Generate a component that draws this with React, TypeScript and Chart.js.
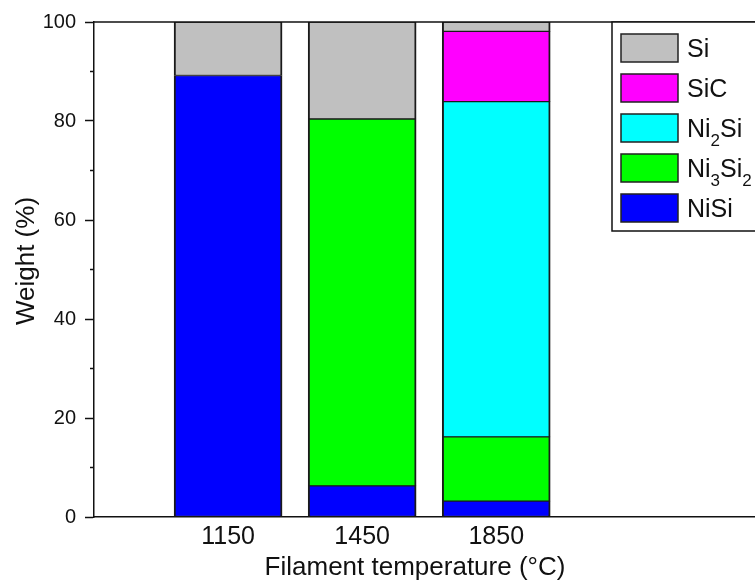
import React, { useEffect, useRef } from "react";
import { Chart, registerables } from "chart.js";

Chart.register(...registerables);

const categories = ["1150", "1450", "1850"];
const niSi = [89.2, 6.3, 3.2];
const ni3Si2 = [null, 74.1, 13.0];
const ni2Si = [null, null, 67.7];
const siC = [null, null, 14.2];
const si = [10.8, 19.6, 1.9];

const seriesLabels = ["NiSi", "Ni\u2083Si\u2082", "Ni\u2082Si", "SiC", "Si"];
const seriesColors = ["#0000FF", "#00FF00", "#00FFFF", "#FF00FF", "#C0C0C0"];
const seriesValues = [niSi, ni3Si2, ni2Si, siC, si];

const yTicks = [0, 20, 40, 60, 80, 100];
const yMinorTicks = [10, 30, 50, 70, 90];

const xTitle = "Filament temperature (\u00B0C)";
const yTitle = "Weight (%)";

const FONT = "'Liberation Sans', Arial, Helvetica, sans-serif";
const INK = "#111";

const subMap: Record<string, string> = { "\u2080": "0", "\u2081": "1", "\u2082": "2", "\u2083": "3", "\u2084": "4" };

function drawRich(ctx: CanvasRenderingContext2D, text: string, x: number, y: number, size: number) {
  let cx = x;
  for (const ch of text) {
    if (subMap[ch]) {
      ctx.font = `${Math.round(size * 0.66)}px ${FONT}`;
      ctx.fillText(subMap[ch], cx, y + size * 0.36);
      cx += ctx.measureText(subMap[ch]).width;
    } else {
      ctx.font = `${size}px ${FONT}`;
      ctx.fillText(ch, cx, y);
      cx += ctx.measureText(ch).width;
    }
  }
}

const framePlugin = {
  id: "frameAndLegend",
  afterDraw(chart: any) {
    const { ctx, chartArea } = chart;
    const yScale = chart.scales.y;
    ctx.save();
    ctx.strokeStyle = INK;
    ctx.lineWidth = 1.5;
    ctx.beginPath();
    ctx.moveTo(chartArea.left, chartArea.top);
    ctx.lineTo(chartArea.right + 2, chartArea.top);
    ctx.stroke();
    for (const v of yMinorTicks) {
      const py = yScale.getPixelForValue(v);
      ctx.beginPath();
      ctx.moveTo(chartArea.left - 4, py);
      ctx.lineTo(chartArea.left, py);
      ctx.stroke();
    }
    // axis titles
    ctx.fillStyle = INK;
    ctx.font = `26px ${FONT}`;
    ctx.textAlign = "center";
    ctx.textBaseline = "alphabetic";
    ctx.fillText(xTitle, chartArea.left + 321, chartArea.bottom + 58);
    ctx.save();
    ctx.translate(34, chartArea.top + 239);
    ctx.rotate(-Math.PI / 2);
    ctx.fillText(yTitle, 0, 0);
    ctx.restore();
    // legend
    const boxLeft = chartArea.right - 143;
    const boxTop = chartArea.top;
    const boxBottom = chartArea.top + 209;
    ctx.fillStyle = "#fff";
    ctx.fillRect(boxLeft, boxTop, chartArea.right + 10 - boxLeft, boxBottom - boxTop);
    ctx.strokeStyle = INK;
    ctx.lineWidth = 1.5;
    ctx.beginPath();
    ctx.moveTo(chartArea.right + 10, boxTop);
    ctx.lineTo(boxLeft, boxTop);
    ctx.lineTo(boxLeft, boxBottom);
    ctx.lineTo(chartArea.right + 10, boxBottom);
    ctx.stroke();
    const ds = chart.data.datasets.slice().reverse();
    ds.forEach((d: any, i: number) => {
      const sy = boxTop + 12 + i * 40;
      const sx = boxLeft + 9;
      ctx.fillStyle = d.backgroundColor;
      ctx.fillRect(sx, sy, 57, 28);
      ctx.strokeStyle = "#222";
      ctx.lineWidth = 1.5;
      ctx.strokeRect(sx, sy, 57, 28);
      ctx.fillStyle = INK;
      ctx.textBaseline = "alphabetic";
      ctx.textAlign = "left";
      drawRich(ctx, d.label, sx + 66, sy + 23, 25);
    });
    ctx.restore();
  },
};

export default function App() {
  const ref = useRef<HTMLCanvasElement>(null);
  useEffect(() => {
    if (!ref.current) return;
    const chart = new Chart(ref.current, {
      type: "bar",
      data: {
        datasets: seriesValues.map((vals, s) => ({
          label: seriesLabels[s],
          data: categories.map((_, i) => ({ x: i + 1, y: vals[i] })),
          backgroundColor: seriesColors[s],
          borderColor: "#1a1a1a",
          borderWidth: { top: 1, bottom: 1, left: 2, right: 2 },
          borderSkipped: false,
          barThickness: 108,
        })) as any,
      },
      options: {
        animation: false,
        responsive: false,
        layout: { padding: { left: 0, top: 22, right: 0, bottom: 0 } },
        plugins: { legend: { display: false }, tooltip: { enabled: false } },
        scales: {
          x: {
            type: "linear",
            stacked: true,
            offset: false,
            min: 0,
            max: 4.93,
            afterBuildTicks: (scale: any) => {
              scale.ticks = categories.map((_, i) => ({ value: i + 1 }));
            },
            afterFit: (scale: any) => {
              scale.height = 64;
            },
            ticks: {
              callback: (v: any) => categories[Number(v) - 1] ?? "",
              font: { family: FONT, size: 25 },
              color: INK,
              padding: 5,
              autoSkip: false,
              maxRotation: 0,
            },
            grid: { display: true, offset: false, drawOnChartArea: false, drawTicks: false },
            border: { display: true, color: INK, width: 1.5 },
            title: { display: false },
          },
          y: {
            type: "linear",
            stacked: true,
            min: 0,
            max: 100,
            afterBuildTicks: (scale: any) => {
              scale.ticks = yTicks.map((v) => ({ value: v }));
            },
            afterFit: (scale: any) => {
              scale.width = 94;
            },
            ticks: {
              font: { family: FONT, size: 20 },
              color: INK,
              padding: 9,
            },
            grid: {
              display: true,
              drawOnChartArea: false,
              drawTicks: true,
              tickLength: 9,
              tickWidth: 1.5,
              tickColor: INK,
            },
            border: { display: true, color: INK, width: 1.5 },
            title: { display: false },
          },
        },
      },
      plugins: [framePlugin],
    });
    return () => chart.destroy();
  }, []);
  return (
    <div style={{ position: "absolute", left: 0, top: 0, width: 755, height: 581, background: "#fff" }}>
      <canvas ref={ref} width={755} height={581} />
    </div>
  );
}
